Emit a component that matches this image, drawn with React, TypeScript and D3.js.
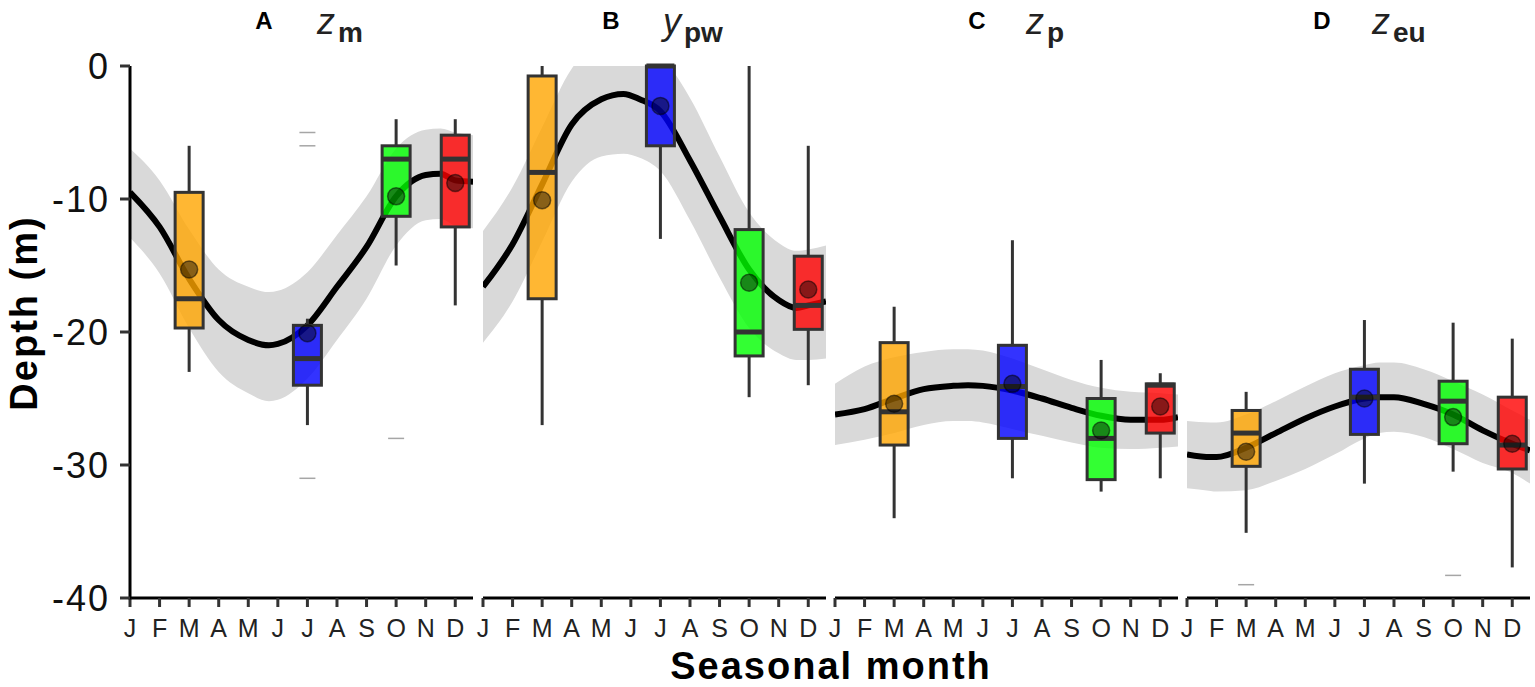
import React from "react";
import * as d3 from "d3";

// ---------- data ----------
const monthLabels = ["J", "F", "M", "A", "M", "J", "J", "A", "S", "O", "N", "D"];
const seasonMonth = [2, 6, 9, 11]; // M, J, O, D
const seasonColor = ["#FFA500", "#0000FF", "#00FF00", "#FF0000"];
const panelLetter = ["A", "B", "C", "D"];
const panelVar = ["z", "y", "z", "z"];
const panelSub = ["m", "pw", "p", "eu"];
const yTicks = [0, -10, -20, -30, -40];

// box stats: [whiskerLow, q1, median, q3, whiskerHigh, mean]
const boxesA = [
  [-23, -19.7, -17.5, -9.5, -6.0, -15.3],
  [-27, -24.0, -22.0, -19.5, -19.0, -20.1],
  [-15, -11.3, -7.0, -6.0, -4.0, -9.8],
  [-18, -12.1, -7.0, -5.2, -4.0, -8.8],
];
const boxesB = [
  [-27, -17.5, -8.0, -0.75, 0, -10.1],
  [-13, -6.0, 0, 0, 0, -3.0],
  [-24.9, -21.8, -20.0, -12.3, 0, -16.3],
  [-24.0, -19.8, -18.0, -14.3, -6.0, -16.8],
];
const boxesC = [
  [-34.0, -28.5, -26.0, -20.8, -18.1, -25.4],
  [-31.0, -28.0, -24.1, -21.0, -13.1, -23.9],
  [-32.0, -31.1, -28.0, -25.0, -22.1, -27.4],
  [-31.0, -27.6, -24.0, -23.9, -23.1, -25.6],
];
const boxesD = [
  [-35.1, -30.1, -27.6, -25.9, -24.5, -29.0],
  [-31.4, -27.7, -24.9, -22.8, -19.1, -25.0],
  [-30.5, -28.4, -25.2, -23.7, -19.3, -26.4],
  [-37.7, -30.3, -28.5, -24.9, -20.5, -28.4],
];
const outliersA = [[], [-5, -6, -31], [-28], []];
const outliersB = [[], [], [], []];
const outliersC = [[], [], [], []];
const outliersD = [[-39.0], [], [-38.3], []];

// fitted seasonal curves and confidence bands (month index 0 = Jan)
const fitMonthsA = [0, 1, 2, 3, 4, 4.7, 5, 6, 7, 8, 9, 10, 10.5, 11, 11.6];
const fitA = [-9.5, -12.1, -16.0, -19.1, -20.6, -21.0, -20.9, -19.5, -16.6, -13.6, -9.8, -8.2, -8.1, -8.6, -8.7];
const upperA = [-6.2, -8.6, -12.3, -15.3, -16.6, -17.0, -16.9, -15.5, -12.7, -9.8, -6.2, -4.8, -4.7, -5.0, -5.2];
const lowerA = [-12.9, -15.6, -19.7, -23.0, -24.6, -25.2, -25.1, -23.5, -20.6, -17.5, -13.5, -11.6, -11.5, -12.0, -12.2];

const fitMonthsB = [0, 1, 2, 3, 4, 4.75, 5.3, 6, 7, 8, 9, 10, 10.6, 11, 11.6];
const fitB = [-16.6, -13.4, -8.9, -4.4, -2.5, -2.1, -2.5, -3.4, -7.1, -11.3, -15.3, -17.6, -18.2, -18.0, -17.7];
const upperB = [-12.4, -9.1, -4.6, -0.2, 1.8, 2.2, 1.8, 0.8, -2.4, -6.8, -11.0, -13.3, -13.9, -13.8, -13.5];
const lowerB = [-20.8, -17.7, -13.2, -8.7, -6.8, -6.6, -6.9, -7.9, -11.6, -15.9, -19.7, -21.6, -22.1, -22.1, -22.0];

const fitMonthsC = [0, 1, 2, 3, 4, 4.5, 5, 6, 7, 8, 9, 10, 11, 11.6];
const fitC = [-26.2, -25.8, -25.0, -24.3, -24.05, -24.0, -24.05, -24.4, -25.0, -25.7, -26.3, -26.6, -26.6, -26.4];
const upperC = [-23.9, -22.6, -21.9, -21.5, -21.3, -21.3, -21.4, -22.0, -22.8, -23.6, -24.2, -24.5, -24.6, -24.7];
const lowerC = [-28.5, -28.1, -27.6, -27.0, -26.7, -26.7, -26.8, -27.3, -27.8, -28.3, -28.7, -28.8, -28.7, -28.6];

const fitMonthsD = [0, 0.8, 1, 2, 3, 4, 5, 6, 6.5, 7, 8, 9, 10, 11, 11.6];
const fitD = [-29.2, -29.4, -29.4, -28.7, -27.6, -26.5, -25.6, -25.0, -24.9, -24.9, -25.4, -26.2, -27.4, -28.4, -28.9];
const upperD = [-26.7, -26.8, -26.8, -26.2, -25.2, -24.1, -23.1, -22.5, -22.3, -22.3, -22.8, -23.7, -24.7, -25.9, -26.6];
const lowerD = [-31.75, -31.95, -32.0, -31.9, -31.2, -30.3, -29.2, -28.0, -27.6, -27.5, -27.9, -28.8, -29.85, -30.6, -31.4];

const panels = [
  { boxes: boxesA, outliers: outliersA, months: fitMonthsA, fit: fitA, upper: upperA, lower: lowerA },
  { boxes: boxesB, outliers: outliersB, months: fitMonthsB, fit: fitB, upper: upperB, lower: lowerB },
  { boxes: boxesC, outliers: outliersC, months: fitMonthsC, fit: fitC, upper: upperC, lower: lowerC },
  { boxes: boxesD, outliers: outliersD, months: fitMonthsD, fit: fitD, upper: upperD, lower: lowerD },
];

// ---------- layout ----------
const W = 1535;
const H = 687;
const FONT = "'Liberation Sans', Arial, Helvetica, sans-serif";
const panelLefts = [130, 483, 835, 1187];
const panelW = 343;
const plotTop = 66;
const plotBottom = 598;
const titleLetterX = [264, 611, 977, 1322];
const titleVarX = [317, 663, 1026, 1372];

const y = d3.scaleLinear().domain([-40, 0]).range([plotBottom, plotTop]);

function Panel({ i }: { i: number }) {
  const p = panels[i];
  const left = panelLefts[i];
  const x = d3.scaleLinear().domain([0, 11.6]).range([left, left + panelW]);
  const pts = p.months.map((m, k) => ({ m, v: p.fit[k], u: p.upper[k], l: p.lower[k] }));
  const area = d3
    .area<any>()
    .x((d) => x(d.m))
    .y0((d) => y(d.l))
    .y1((d) => y(d.u))
    .curve(d3.curveMonotoneX);
  const line = d3
    .line<any>()
    .x((d) => x(d.m))
    .y((d) => y(d.v))
    .curve(d3.curveMonotoneX);
  const bw = 28;
  const clipId = `clip-${i}`;
  return (
    <g>
      <defs>
        <clipPath id={clipId}>
          <rect x={left} y={plotTop} width={panelW} height={plotBottom - plotTop} />
        </clipPath>
      </defs>
      <g clipPath={`url(#${clipId})`}>
        <path d={area(pts) || ""} fill="#d9d9d9" />
        <path d={line(pts) || ""} fill="none" stroke="#000" strokeWidth={6} />
      </g>
      {p.boxes.map((b, j) => {
        const cx = x(seasonMonth[j]);
        const [lo, q1, med, q3, hi, mean] = b;
        return (
          <g key={j}>
            {p.outliers[j].map((o, k) => (
              <line key={k} x1={cx - 8} x2={cx + 8} y1={y(o)} y2={y(o)} stroke="#a6a6a6" strokeWidth={1.5} />
            ))}
            <line x1={cx} x2={cx} y1={y(hi)} y2={y(q3)} stroke="#333" strokeWidth={3} />
            <line x1={cx} x2={cx} y1={y(q1)} y2={y(lo)} stroke="#333" strokeWidth={3} />
            <rect
              x={cx - bw / 2}
              y={y(q3)}
              width={bw}
              height={y(q1) - y(q3)}
              fill={seasonColor[j]}
              fillOpacity={0.8}
              stroke="#333"
              strokeWidth={3}
            />
            <line x1={cx - bw / 2} x2={cx + bw / 2} y1={y(med)} y2={y(med)} stroke="#333" strokeWidth={5} />
            <circle
              cx={cx}
              cy={y(mean)}
              r={8.5}
              fill="#000"
              fillOpacity={0.45}
              stroke="#000"
              strokeOpacity={0.5}
              strokeWidth={1.5}
            />
          </g>
        );
      })}
      {/* x axis */}
      <line x1={left} x2={left + panelW} y1={plotBottom} y2={plotBottom} stroke="#000" strokeWidth={3} />
      {monthLabels.map((lab, k) => (
        <g key={k}>
          <line x1={x(k)} x2={x(k)} y1={plotBottom} y2={plotBottom + 9} stroke="#333" strokeWidth={3} />
          <text x={x(k)} y={637} textAnchor="middle" fontSize={25} fill="#222" fontFamily={FONT}>
            {lab}
          </text>
        </g>
      ))}
      {/* title */}
      <text x={titleLetterX[i]} y={29} textAnchor="middle" fontSize={24} fontWeight="bold" fill="#000" fontFamily={FONT}>
        {panelLetter[i]}
      </text>
      <text x={titleVarX[i]} y={34} fontFamily={FONT} fill="#222">
        <tspan fontSize={36} fontStyle="italic">
          {panelVar[i]}
        </tspan>
        <tspan fontSize={28} fontWeight="bold" dx={3} dy={8}>
          {panelSub[i]}
        </tspan>
      </text>
    </g>
  );
}

export default function App() {
  return (
    <svg
      width={W}
      height={H}
      viewBox={`0 0 ${W} ${H}`}
      style={{ position: "absolute", left: 0, top: 0, background: "#fff" }}
    >
      <rect x={0} y={0} width={W} height={H} fill="#fff" />
      {panels.map((_, i) => (
        <Panel key={i} i={i} />
      ))}
      {/* y axis on panel A */}
      <line x1={130} x2={130} y1={plotTop} y2={plotBottom + 1.5} stroke="#000" strokeWidth={3} />
      {yTicks.map((t) => (
        <g key={t}>
          <line x1={120} x2={130} y1={y(t)} y2={y(t)} stroke="#333" strokeWidth={3} />
          <text
            x={110}
            y={y(t)}
            dy="0.36em"
            textAnchor="end"
            fontSize={36}
            fill="#111"
            fontFamily={FONT}
            letterSpacing={2}
          >
            {t}
          </text>
        </g>
      ))}
      <text
        transform={`translate(37, 313) rotate(-90)`}
        textAnchor="middle"
        fontSize={38}
        fontWeight="bold"
        fill="#000"
        fontFamily={FONT}
        letterSpacing={2}
      >
        Depth (m)
      </text>
      <text
        x={831}
        y={679}
        textAnchor="middle"
        fontSize={38}
        fontWeight="bold"
        fill="#000"
        fontFamily={FONT}
        letterSpacing={2}
      >
        Seasonal month
      </text>
    </svg>
  );
}
